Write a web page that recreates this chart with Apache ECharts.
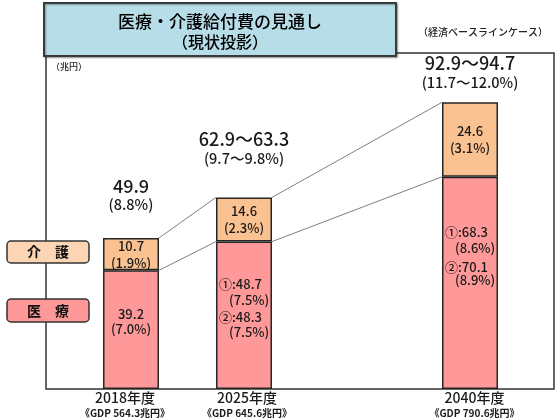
<!DOCTYPE html>
<html>
<head>
<meta charset="utf-8">
<script src="https://cdn.jsdelivr.net/npm/echarts@6/dist/echarts.min.js"></script>
<style>
html,body{margin:0;padding:0;background:#fff;}
#c{width:560px;height:420px;}
</style>
</head>
<body>
<div id="c"></div>
<script>
// ---- data (blank slot keeps the wider 2025→2040 gap) ----
const categories = ['2018年度', '2025年度', '', '2040年度'];
const gdpLabels = ['《GDP 564.3兆円》', '《GDP 645.6兆円》', '', '《GDP 790.6兆円》'];
const medical = [39.2, 48.7, null, 70.1];
const care = [10.7, 14.6, null, 24.6];
const careText = ['10.7', '14.6', '', '24.6'];
const careShare = ['(1.9%)', '(2.3%)', '', '(3.1%)'];
const medicalCases = [
  [['39.2', '(7.0%)']],
  [['①:48.7', '(7.5%)'], ['②:48.3', '(7.5%)']],
  [],
  [['①:68.3', '(8.6%)'], ['②:70.1', '(8.9%)']]
];
const totalText = ['49.9', '62.9～63.3', '', '92.9～94.7'];
const totalShare = ['(8.8%)', '(9.7～9.8%)', '', '(11.7～12.0%)'];

// ---- styles ----
const FONT = 'Noto Sans CJK JP';
const TXT = '#1a1a1a';
const BAR_W = 56;
const MED_COLOR = '#FF9999';
const CARE_COLOR = '#FAC191';
const medLabelDist = [36, 34, 0, 47];
const medCaseGap = [0, 3, 0, 7];
const totalLabelDist = [24, 30, 0, 11];
const catShift = [-6, 3, 0, 4.5];

const chart = echarts.init(document.getElementById('c'));

const idx = categories.map((c, i) => i).filter(i => medical[i] != null);

const base = { fontFamily: FONT, fontWeight: 500, color: TXT };

const medData = categories.map((c, i) => {
  if (medical[i] == null) return '-';
  const cases = medicalCases[i];
  let text, rich = {};
  if (cases.length === 1) {
    text = '{s|' + cases[0][0] + '}\n{s|' + cases[0][1] + '}';
    rich.s = Object.assign({}, base, { fontSize: 13, lineHeight: 15 });
  } else {
    text = '{c|' + cases[0][0] + '}\n{p|' + cases[0][1] + '}\n{c2|' + cases[1][0] + '}\n{p|' + cases[1][1] + '}';
    rich.c = Object.assign({}, base, { fontSize: 13, lineHeight: 16, width: 50, align: 'left' });
    rich.c2 = Object.assign({}, base, { fontSize: 13, lineHeight: 16, width: 50, align: 'left', padding: [medCaseGap[i], 0, 0, 0] });
    rich.p = Object.assign({}, base, { fontSize: 13, lineHeight: 16, width: 40, align: 'left', padding: [0, 0, 0, 10] });
  }
  return {
    value: medical[i],
    label: { show: true, position: 'insideTop', distance: medLabelDist[i], formatter: text, rich: rich }
  };
});

const careData = categories.map((c, i) => {
  if (care[i] == null) return '-';
  return {
    value: care[i],
    label: { show: true, position: 'inside', formatter: careText[i] + '\n' + careShare[i] }
  };
});

const totalData = idx.map(i => ({
  value: [i, medical[i] + care[i]],
  label: {
    show: true, position: 'top', distance: totalLabelDist[i],
    formatter: '{t|' + totalText[i] + '}\n{p|' + totalShare[i] + '}'
  }
}));

const connectorData = [];
for (let k = 0; k + 1 < idx.length; k++) {
  const a = idx[k], b = idx[k + 1];
  connectorData.push([a, b, medical[a] + care[a], medical[b] + care[b]]);
  connectorData.push([a, b, medical[a], medical[b]]);
}

const catRich = {};
categories.forEach((c, i) => {
  const s = catShift[i];
  const pad = [0, s < 0 ? -2 * s : 0, 0, s > 0 ? 2 * s : 0];
  catRich['y' + i] = Object.assign({}, base, { fontSize: 14, lineHeight: 16, padding: pad });
  catRich['g' + i] = Object.assign({}, base, { fontSize: 10, lineHeight: 14, fontWeight: 'bold', padding: pad });
});

const option = {
  animation: false,
  backgroundColor: '#fff',
  textStyle: { fontFamily: FONT },
  grid: { left: 74.5, right: 33.5, top: 53, bottom: 31, containLabel: false },
  xAxis: {
    type: 'category',
    data: categories,
    axisLine: { show: false },
    axisTick: { show: false },
    splitLine: { show: false },
    axisLabel: {
      interval: 0, margin: 1, fontFamily: FONT, color: TXT,
      formatter: (v, i) => v ? '{y' + i + '|' + v + '}\n{g' + i + '|' + gdpLabels[i] + '}' : '',
      rich: catRich
    }
  },
  yAxis: {
    type: 'value', min: 0, max: 111,
    axisLine: { show: false }, axisTick: { show: false },
    axisLabel: { show: false }, splitLine: { show: false }
  },
  series: [
    {
      type: 'custom',
      z: 1,
      renderItem: (params, api) => {
        const p0 = api.coord([api.value(0), api.value(2)]);
        const p1 = api.coord([api.value(1), api.value(3)]);
        return {
          type: 'line',
          shape: { x1: p0[0] + BAR_W / 2, y1: p0[1], x2: p1[0] - BAR_W / 2, y2: p1[1] },
          style: { stroke: '#808080', lineWidth: 1 }
        };
      },
      encode: { x: 0, y: 2 },
      data: connectorData,
      silent: true
    },
    {
      name: '医療', type: 'bar', stack: 'total', barWidth: BAR_W, z: 3,
      itemStyle: { color: MED_COLOR, borderColor: '#262626', borderWidth: 1.5 },
      label: { fontFamily: FONT, fontWeight: 500, fontSize: 13, color: TXT },
      data: medData
    },
    {
      name: '介護', type: 'bar', stack: 'total', barWidth: BAR_W, z: 3,
      itemStyle: { color: CARE_COLOR, borderColor: '#262626', borderWidth: 1.5 },
      label: { fontFamily: FONT, fontWeight: 500, fontSize: 13, lineHeight: 17, color: TXT },
      data: careData
    },
    {
      type: 'scatter', symbolSize: 0, z: 4, silent: true,
      itemStyle: { opacity: 1, color: TXT },
      label: {
        fontFamily: FONT, color: TXT, opacity: 1,
        rich: {
          t: Object.assign({}, base, { fontSize: 18, lineHeight: 20 }),
          p: Object.assign({}, base, { fontSize: 14.5, lineHeight: 18 })
        }
      },
      data: totalData
    }
  ],
  graphic: [
    { type: 'rect', z: 0, silent: true, shape: { x: 46, y: 53, width: 508, height: 336 },
      style: { fill: 'none', stroke: '#333', lineWidth: 1.5 } },
    { type: 'rect', z: 100, shape: { x: 44, y: 3, width: 352, height: 53 },
      style: { fill: '#B7DEE8', stroke: '#3a3a3a', lineWidth: 2, shadowBlur: 2, shadowColor: 'rgba(0,0,0,0.35)', shadowOffsetX: 1, shadowOffsetY: 1 } },
    { type: 'text', z: 101, x: 220, y: 22,
      style: { text: '医療・介護給付費の見通し', fontFamily: FONT, fontWeight: 500, fontSize: 17, fill: '#000', align: 'center', verticalAlign: 'middle' } },
    { type: 'text', z: 101, x: 220, y: 42,
      style: { text: '（現状投影）', fontFamily: FONT, fontWeight: 500, fontSize: 16, fill: '#000', align: 'center', verticalAlign: 'middle' } },
    { type: 'text', z: 101, x: 483, y: 32,
      style: { text: '（経済ベースラインケース）', fontFamily: FONT, fontWeight: 500, fontSize: 10, fill: '#222', align: 'center', verticalAlign: 'middle' } },
    { type: 'text', z: 101, x: 51, y: 67,
      style: { text: '（兆円）', fontFamily: FONT, fontWeight: 500, fontSize: 9, fill: '#222', align: 'left', verticalAlign: 'middle' } },
    { type: 'rect', z: 100, shape: { x: 7, y: 241, width: 82, height: 22, r: 4 },
      style: { fill: '#FCD5B4', stroke: '#333', lineWidth: 1.5 } },
    { type: 'text', z: 101, x: 48, y: 252,
      style: { text: '介　護', fontFamily: FONT, fontSize: 14, fontWeight: 'bold', fill: '#111', align: 'center', verticalAlign: 'middle' } },
    { type: 'rect', z: 100, shape: { x: 7, y: 299, width: 82, height: 23, r: 4 },
      style: { fill: '#FF9999', stroke: '#333', lineWidth: 1.5 } },
    { type: 'text', z: 101, x: 48, y: 310.5,
      style: { text: '医　療', fontFamily: FONT, fontSize: 14, fontWeight: 'bold', fill: '#111', align: 'center', verticalAlign: 'middle' } }
  ]
};
chart.setOption(option);
</script>
</body>
</html>
